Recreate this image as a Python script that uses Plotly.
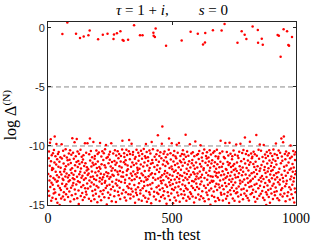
import plotly.graph_objects as go

# log Delta^(N) for tests m = 1..1000 (20 tests per row)
log_delta = [
    -12.37, -13.82, -11.05, -10.46, -14.21, -12.93, -11.68, -9.72, -13.47, -12.56, -9.43, -11.29, -14.63, -13.11, -10.78, -12.04, -11.87, -14.38, -13.29, -10.61,
    -11.93, -12.71, -14.02, -10.34, -13.66, -11.41, -9.2, -12.85, -13.95, -10.87, -12.18, -14.49, -11.57, -9.83, -13.04, -12.47, -11.12, -14.81, -12.96, -10.69,
    -13.38, -11.76, -10.52, -12.64, -14.14, -11.33, -15.0, -13.57, -12.21, -10.95, -11.84, -13.73, -14.44, -12.42, -9.86, -11.06, -13.19, -0.51, -12.77, -14.27,
    -10.41, -12.88, -11.49, -13.91, -12.16, -10.83, -14.56, -11.97, -13.42, -12.59, -10.27, -11.71, -14.09, -13.24, -12.34, -10.98, -13.63, 0.45, -11.22, -12.67,
    -14.33, -11.58, -13.02, -10.64, -12.49, -13.86, -11.17, -12.91, -10.36, -14.71, -12.02, -11.44, -13.53, -10.74, -12.28, -14.17, -11.89, -9.34, -13.35, -12.73,
    -10.57, -13.14, -12.43, -11.08, -14.52, -12.81, -9.69, -13.69, -11.63, -12.12, -14.06, -10.88, -0.49, -13.27, -11.36, -9.4, -12.61, -14.42, -10.47, -11.79,
    -12.98, -11.27, -13.78, -14.91, -10.66, -12.39, -11.53, -13.07, -0.85, -12.19, -10.31, -14.24, -11.91, -13.48, -12.69, -10.92, -11.38, -13.99, -12.53, -14.58,
    -11.14, -13.32, -10.79, -0.72, -12.86, -11.69, -14.35, -12.27, -9.77, -13.58, -11.47, -12.74, -13.88, -10.58, -14.11, -12.08, -11.81, -13.17, -9.78, -12.45,
    -13.61, -11.98, -0.63, -12.33, -14.47, -10.71, -12.92, -0.23, -9.37, -11.24, -13.44, -12.62, -10.43, -14.66, -11.73, -13.09, -12.17, -10.96, -13.81, -11.43,
    -12.58, -14.19, -9.66, -11.61, -13.26, -12.79, -14.52, -11.09, -10.84, -13.71, -12.24, -11.52, -14.04, -12.89, -10.39, -13.39, -11.86, -12.51, -14.77, -10.67,
    -11.32, -0.97, -13.52, -12.14, -10.56, -14.29, -11.78, -13.01, -12.71, -9.75, -11.94, -13.84, -12.36, -14.59, -10.89, -11.55, -13.21, -12.83, -10.44, -14.06,
    -0.57, -12.66, -11.19, -13.76, -10.62, -12.41, -14.34, -11.64, -13.11, -10.28, -12.96, -11.83, -13.57, -9.91, -12.22, -11.01, -14.95, -13.36, -12.57, -0.49,
    -10.93, -13.94, -12.31, -11.46, -14.41, -10.72, -12.78, -13.29, -11.16, -10.49, -14.13, -12.63, -11.74, -13.67, -9.78, -12.09, -14.68, -11.35, -13.03, -12.44,
    -11.88, -13.46, -10.63, -0.94, -12.52, -0.55, -14.26, -11.28, -13.79, -10.37, -12.06, -11.59, -13.18, -14.74, -10.81, -12.87, -11.42, -0.46, -13.34, -12.19,
    -10.45, -13.87, -12.42, -11.03, -14.18, -12.94, -10.69, -11.71, -13.54, -12.13, -14.49, -0.29, -11.31, -10.86, -13.06, -12.58, -11.82, -14.02, -10.29, -9.56,
    -1.02, -12.23, -12.61, -13.74, -1.08, -11.37, -10.62, -10.94, -14.37, -13.12, -12.87, -11.54, -11.21, -13.93, -14.62, -10.31, -12.46, -12.09, -10.77, -13.41,
    -11.66, -11.98, -1.0, -14.08, -13.57, -10.44, -9.5, -12.73, -13.22, -11.13, -10.68, -14.45, -14.12, -12.34, -11.77, -13.63, -9.81, -12.91, -12.52, -11.39,
    -13.86, -10.74, -10.51, -12.17, -14.29, -11.62, 0.22, -13.31, -12.82, -11.09, -14.81, -12.39, -10.93, -13.68, -13.97, -11.48, -10.33, -12.61, -14.16, -11.84,
    -12.27, -12.04, -13.49, -10.58, -11.26, -14.53, -13.15, -10.82, -11.94, -12.71, -0.63, -14.03, -13.76, -11.57, -10.41, -12.96, -12.33, -14.64, -11.08, -10.69,
    -0.63, -13.58, -12.48, -11.73, -14.21, -10.26, -13.04, -13.39, -11.41, -12.13, -10.87, -14.39, -12.66, -11.02, -9.83, -13.81, -12.89, -10.52, -14.72, -11.66,
    -12.81, -13.33, -10.96, -11.28, -14.47, -12.56, -12.07, -13.92, -10.38, -11.87, -14.11, -13.26, -10.64, -12.42, -11.51, -14.86, -13.63, -9.67, -12.31, -11.19,
    -13.13, -11.44, -10.27, -12.69, -0.40, -0.66, -14.28, -13.87, -11.79, -10.91, -0.77, -12.38, -12.86, -0.06, -14.54, -11.17, -10.71, -13.49, -12.02, -13.97,
    -11.63, -10.39, -9.1, -12.76, -14.07, -13.38, -11.34, -12.21, -10.84, -14.66, -13.71, -11.91, -10.53, -12.64, -12.97, -14.32, -11.04, -13.16, -9.82, -12.49,
    -8.35, -13.59, -11.56, -14.18, -12.91, -10.66, -11.24, -13.83, -12.36, -10.47, -14.44, -12.12, -11.69, -13.28, -10.95, -1.51, -12.58, -14.89, -11.33, -13.46,
    -12.29, -10.72, -13.91, -11.48, -12.73, -14.23, -10.33, -9.37, -13.07, -11.86, -12.44, -14.57, -13.32, -10.61, -11.14, -12.88, -14.02, -11.73, -9.76, -13.64,
    -11.97, -12.52, -13.23, -14.85, -10.78, -11.31, -13.74, -12.18, -10.42, -14.36, -12.84, -11.61, -13.52, -10.89, -12.07, -14.61, -11.04, -13.12, -9.89, -12.63,
    -13.94, -11.49, -10.57, -12.32, -14.19, -13.44, -11.81, -9.74, -12.77, -13.06, -14.73, -11.26, -12.49, -10.86, -13.67, -12.01, -11.37, -14.08, -1.06, -10.68,
    -12.54, -13.27, -11.68, -10.37, -14.42, -12.91, -11.12, -13.81, -10.73, -12.26, -14.14, -11.43, -13.36, -12.69, -9.05, -10.91, -13.58, -14.64, -11.92, -12.38,
    -10.49, -12.84, -13.69, -11.57, -14.31, -10.82, -12.11, -13.13, -11.29, -12.62, -14.48, -9.86, -13.91, -11.83, -0.32, -12.43, -14.06, -10.64, -13.39, -11.47,
    -12.96, -11.18, -14.27, -10.54, -13.56, -12.22, -11.66, -13.02, -14.79, -10.88, -12.37, -11.94, -13.72, -9.63, -12.81, -14.38, -11.39, -13.17, -12.58, -10.76,
    -13.47, -11.82, -12.34, -0.49, -10.67, -14.12, -12.76, -11.11, -13.63, -10.43, -14.53, -12.17, -11.53, -13.24, -9.93, -12.66, -14.26, -11.74, -13.01, -10.97,
    -12.44, -13.84, -11.27, -10.61, -1.40, -14.43, -12.03, -11.89, -13.36, -10.29, -12.71, -14.68, -1.23, -0.43, -11.42, -13.57, -10.84, -12.27, -13.94, -11.06,
    -10.53, -12.86, -14.16, -11.63, -13.29, -12.48, -10.98, -14.51, -11.31, -13.77, -12.09, -10.36, -13.12, -11.84, -14.98, -12.57, -10.72, -13.61, -11.49, -12.94,
    -14.22, -11.21, -13.04, -12.61, -0.20, -10.58, -12.97, -13.86, -11.72, -14.33, -10.44, -12.19, -11.38, -13.43, -14.69, -10.87, -12.52, -11.93, -13.19, -12.29,
    -10.31, -13.73, -11.54, -12.66, -14.41, -11.07, -10.92, -13.27, -12.24, -14.58, -11.81, -13.51, -10.62, -12.93, -11.33, -9.56, -13.96, -12.47, -14.13, -0.23,
    -11.76, -13.38, -10.46, -12.14, -14.62, -11.51, -12.83, -13.67, -10.94, -12.41, -14.07, 0.34, -11.03, -13.14, -9.74, -12.71, -11.96, -14.47, -13.42, -12.01,
    -10.52, -12.58, -14.24, -11.36, -13.92, -12.28, -10.81, -11.61, -13.23, -14.84, -12.87, -9.73, -11.47, -13.76, -12.53, -10.66, -14.11, -11.79, -13.03, -12.21,
    -13.54, -11.13, -10.88, -12.79, -14.44, -11.68, -13.31, -10.39, -12.04, -13.82, -11.52, -14.63, -12.43, -10.74, -13.09, -11.92, -12.68, -14.01, -9.87, -13.61,
    -12.13, -11.41, -13.91, -1.26, -10.83, -12.62, -14.29, -11.02, -13.44, -12.32, -10.49, -14.72, -11.71, -12.92, -13.18, -9.81, -12.01, -14.14, -11.29, -13.69,
    -0.29, -12.48, -10.59, -13.03, -11.82, -14.52, -12.19, -10.34, -13.62, -11.11, -12.84, -14.03, -0.57, -9.28, -11.49, -13.31, -12.42, -10.68, -14.21, -0.94,
    -11.87, -13.79, -10.42, -12.73, -14.41, -11.23, -13.12, -12.08, -10.79, -14.61, -11.59, -13.48, -12.51, -9.64, -13.01, -11.38, -14.09, -12.93, -10.63, -13.42,
    -12.32, -11.04, -13.98, -10.91, 0.11, -12.78, -13.71, -11.53, -10.48, -12.23, -14.32, -11.79, -13.28, -10.71, -12.61, -14.73, -11.34, -13.88, -12.02, -9.08,
    -13.21, -10.82, -12.38, -14.48, -11.72, -0.17, -1.26, -13.59, -10.31, -12.88, -11.09, -14.22, -12.13, -9.88, -13.38, -11.91, -12.69, -14.04, -10.41, -13.02,
    -11.61, -0.91, -12.54, -13.81, -10.93, -1.43, -14.39, -11.32, -12.79, -9.92, -13.47, -12.04, -14.58, -11.78, -10.73, -13.13, -12.28, -11.02, -13.92, -15.0,
    -12.63, -10.51, -14.12, -11.48, -13.34, -12.17, -10.84, -13.72, -11.88, -14.33, -12.91, -10.37, -11.23, -13.04, -14.82, -12.41, -10.62, -13.63, -11.69, -12.12,
    -14.02, -11.43, -12.74, -10.86, -13.37, -12.03, -14.49, -11.14, -10.29, -13.21, -12.49, -11.81, -13.89, -10.69, -14.18, -12.83, -11.27, -13.52, -9.79, -12.31,
    -11.58, -13.84, -10.77, -12.64, -14.43, -0.60, -11.01, -13.08, -12.23, -10.39, -0.66, -14.59, -11.92, -13.27, -12.86, -10.57, -14.11, -2.45, -11.47, -13.73,
    -9.37, -12.44, -10.89, -13.58, -11.26, -14.28, -12.72, -9.68, -13.02, -0.12, -9.2, -11.77, -14.03, -12.09, -10.68, -13.41, -11.12, -14.69, -12.53, -10.47,
    -13.19, -11.66, -12.94, -0.29, -14.23, -10.81, -12.27, -13.93, -1.45, -11.39, -10.61, -1.51, -13.49, -12.02, -14.54, -11.03, -12.81, -9.96, -13.68, -11.91,
    -12.59, -14.09, -10.92, -0.77, -13.29, -11.52, -12.18, -14.41, -10.43, -13.01, -11.83, -12.71, -14.78, -10.72, -13.61, -11.19, -12.39, -13.91, -10.53, -12.14,
]
tests = list(range(1, len(log_delta) + 1))

threshold_levels = [-5, -10]
x_tick_vals = [0, 500, 1000]
x_tick_text = ["0", "500", "1000"]
y_tick_vals = [-15, -10, -5, 0]
y_tick_text = ["-15", "-10", "-5", "0"]

fig = go.Figure()
fig.add_trace(go.Scatter(
    x=tests, y=log_delta, mode="markers",
    marker=dict(color="#ff0000", size=2.5, line=dict(width=0)),
    showlegend=False, hoverinfo="skip",
))
for lvl in threshold_levels:
    fig.add_hline(y=lvl, line=dict(color="#8a8a8a", width=1, dash="5px,3px"), layer="below")

serif = "Liberation Serif, Times New Roman, serif"
sans = "Liberation Sans, Arial, sans-serif"
W, H = 327, 245
L, R, T, B = 48, 31, 22, 40
PW, PH = W - L - R, H - T - B
nb = "\u00a0"

fig.update_layout(
    width=W, height=H,
    margin=dict(l=L, r=R, t=T, b=B, pad=0),
    paper_bgcolor="white", plot_bgcolor="white",
    hovermode=False,
    title=dict(
        text="<i>τ</i> = 1 + <i>i</i>," + nb * 8 + "<i>s</i> = 0",
        x=(L + PW / 2) / W, xanchor="center",
        y=1 - 10 / H, yanchor="middle",
        font=dict(family=serif, size=15, color="#000000"),
    ),
    annotations=[
        dict(
            text="log Δ<sup>(N)</sup>", textangle=-90,
            xref="paper", yref="paper",
            x=-(L - 10) / PW, y=0.49,
            xanchor="center", yanchor="middle", showarrow=False,
            font=dict(family=serif, size=16, color="#000000"),
        ),
        dict(
            text="m-th test",
            xref="paper", yref="paper",
            x=0.5, y=-(234 - (T + PH)) / PH,
            xanchor="center", yanchor="middle", showarrow=False,
            font=dict(family=serif, size=16, color="#000000"),
        ),
    ],
)
fig.update_xaxes(
    range=[0, 1000], tickvals=x_tick_vals, ticktext=x_tick_text,
    ticks="inside", ticklen=3, tickwidth=1, tickcolor="#262626",
    showline=True, linecolor="#262626", linewidth=1, mirror="ticks",
    showgrid=False, zeroline=False, automargin=False,
    tickfont=dict(family=serif, size=14, color="#000000"),
)
fig.update_yaxes(
    range=[-15, 0.5], tickvals=y_tick_vals, ticktext=y_tick_text,
    ticks="inside", ticklen=3, tickwidth=1, tickcolor="#262626",
    showline=True, linecolor="#262626", linewidth=1, mirror="ticks",
    showgrid=False, zeroline=False, automargin=False,
    tickfont=dict(family=sans, size=11, color="#262626"),
)

fig.write_html(
    "out.html",
    config={"displayModeBar": False, "staticPlot": True},
    post_script="document.body.style.margin='0';",
)
